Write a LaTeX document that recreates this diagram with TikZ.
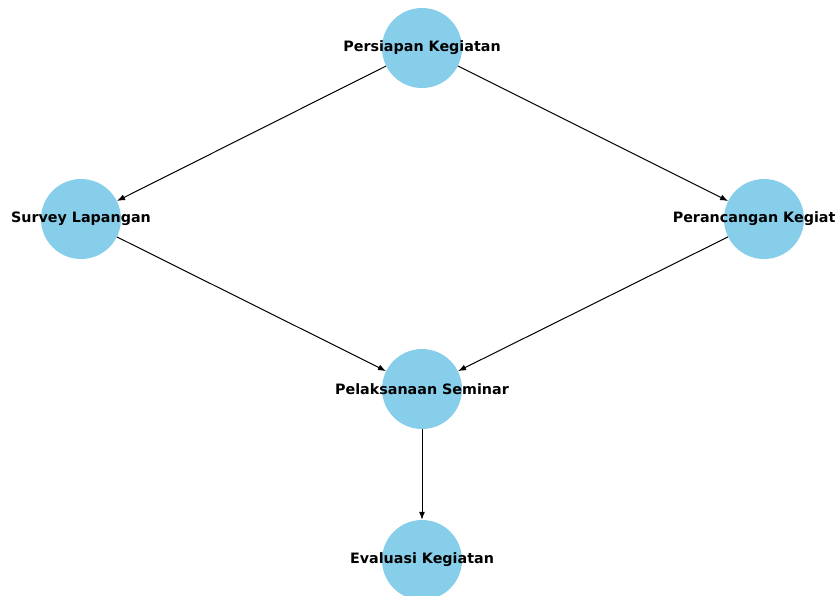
\documentclass[tikz,border=0pt]{standalone}
\usepackage{fontspec}
\setmainfont{DejaVu Sans}
\usetikzlibrary{arrows.meta}
\definecolor{skyblue}{HTML}{87CEEB}
\tikzset{
  circ/.style={circle, fill=skyblue, draw=none, minimum size=80pt, inner sep=0pt},
  lbl/.style={font=\fontsize{14.3}{16}\selectfont\bfseries, text=black, inner sep=0pt},
  edge/.style={draw=black, line width=1pt, -{Latex[length=8pt,width=6pt]}}
}
\begin{document}
\begin{tikzpicture}[x=1pt,y=-1pt]
\useasboundingbox (0,0) rectangle (835,595);
\clip (0,0) rectangle (835,595);
\fill[white] (0,0) rectangle (835,595);
\node[circ] (p) at (422,48) {};
\node[circ] (s) at (81,219) {};
\node[circ] (r) at (764,219) {};
\node[circ] (l) at (422,389) {};
\node[circ] (e) at (422,560) {};
\draw[edge] (p) -- (s);
\draw[edge] (p) -- (r);
\draw[edge] (s) -- (l);
\draw[edge] (r) -- (l);
\draw[edge] (l) -- (e);
\node[lbl] at (p) {Persiapan Kegiatan};
\node[lbl] at (s) {Survey Lapangan};
\node[lbl] at (r) {Perancangan Kegiatan};
\node[lbl] at (l) {Pelaksanaan Seminar};
\node[lbl] at (e) {Evaluasi Kegiatan};
\end{tikzpicture}
\end{document}
